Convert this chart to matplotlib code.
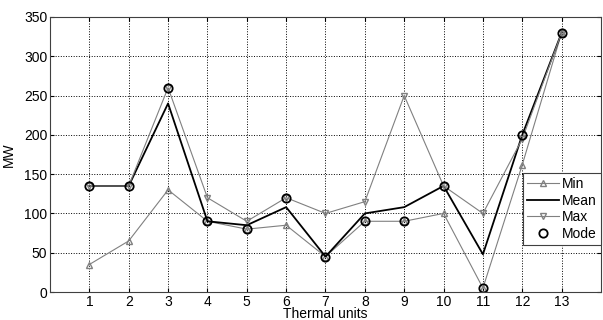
import numpy as np
from matplotlib import pyplot as plt

plt.rcParams['font.family'] = ['Liberation Sans', 'DejaVu Sans']

units = np.arange(1, 14)
min_mw = [35, 65, 130, 90, 80, 85, 45, 90, 90, 100, 5, 162, 330]
mean_mw = [135, 135, 240, 90, 85, 108, 45, 100, 108, 135, 48, 200, 330]
max_mw = [135, 135, 260, 120, 90, 120, 100, 115, 250, 135, 100, 195, 330]
mode_mw = [135, 135, 260, 90, 80, 120, 45, 90, 90, 135, 5, 200, 330]

fig = plt.figure(figsize=(6.03, 3.2), dpi=100)
ax = fig.add_axes([50/603, 28/320, 551/603, 275/320])

grey = '#808080'
ax.plot(units, min_mw, color=grey, lw=0.8, marker='^', ms=4, mfc='none', mec=grey, label='Min')
ax.plot(units, mean_mw, color='black', lw=1.3, label='Mean')
ax.plot(units, max_mw, color=grey, lw=0.8, marker='v', ms=4, mfc='none', mec=grey, label='Max')
ax.plot(units, mode_mw, ls='none', marker='o', ms=6, mfc='none', mec='black', mew=1.3, label='Mode')

ax.set_xlim(0, 14)
ax.set_ylim(0, 350)
ax.set_xticks(units)
ax.set_yticks(np.arange(0, 351, 50))
ax.tick_params(direction='in', labelsize=10, length=3, top=True, right=True, pad=2)
ax.grid(True, ls=':', color='black', lw=0.7)
for s in ax.spines.values():
    s.set_color('#404040')
    s.set_linewidth(0.8)

ax.set_xlabel('Thermal units', fontsize=10, labelpad=-1)
ax.set_ylabel('MW', fontsize=10, labelpad=6)

leg = ax.legend(loc='lower right', bbox_to_anchor=(1.0, 0.17), fancybox=False,
                edgecolor='#404040', framealpha=1, fontsize=10, handlelength=2.3,
                handletextpad=0.2, borderpad=0.3, labelspacing=0.2, borderaxespad=0)
leg.get_frame().set_linewidth(0.8)

fig.savefig('out.png', dpi=100)
